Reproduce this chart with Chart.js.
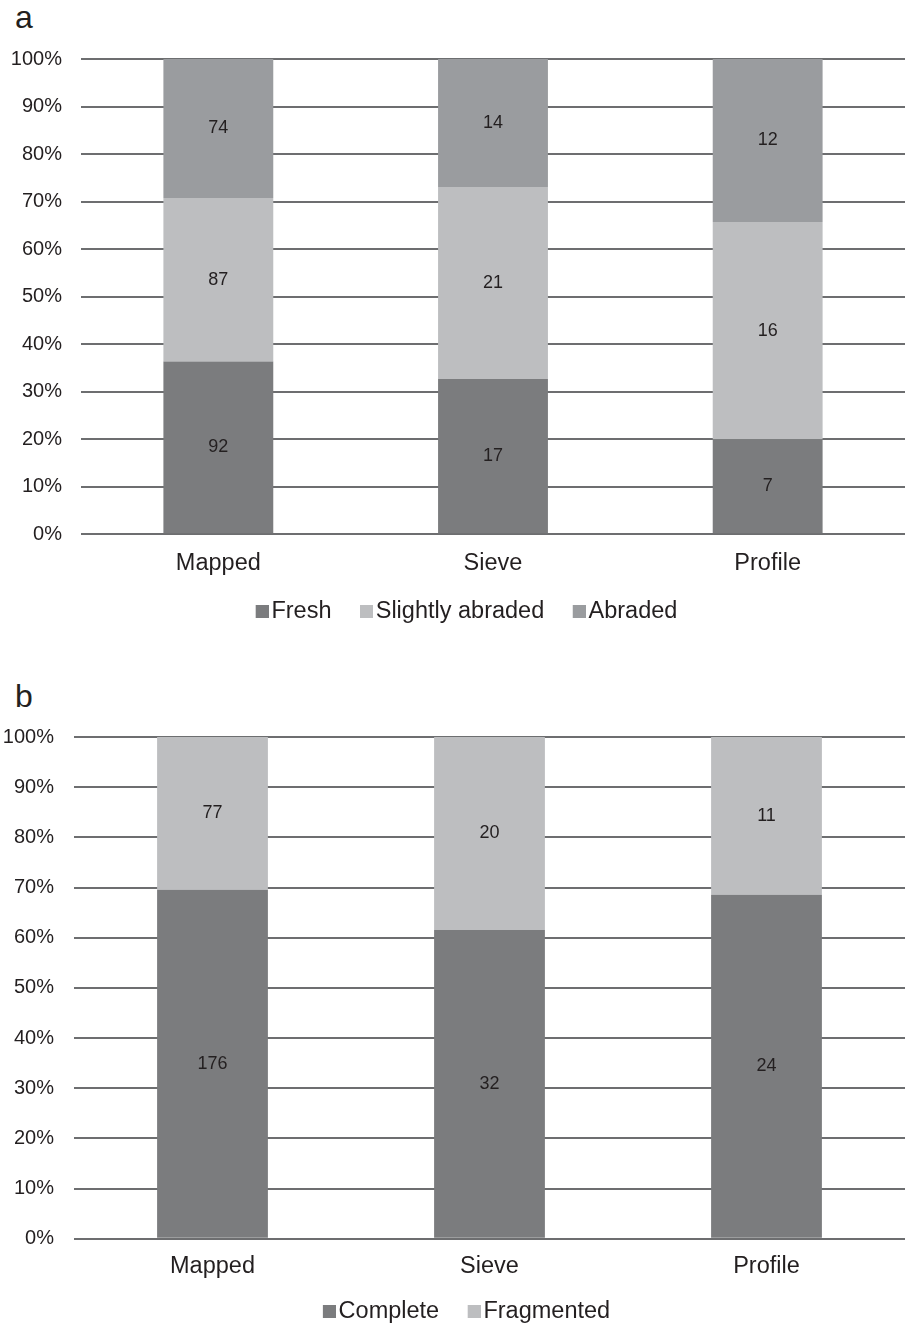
<!DOCTYPE html>
<html><head><meta charset="utf-8">
<script src="https://cdn.jsdelivr.net/npm/chart.js@4.4.1/dist/chart.umd.min.js"></script>
<style>
body{margin:0;background:#fff;width:905px;height:1323px;position:relative;overflow:hidden;font-family:"Liberation Sans",Arial,sans-serif;}
.letter{position:absolute;font-size:32px;color:#231f20;line-height:34px;}
.box{position:absolute;left:0;width:905px;}
</style></head><body>
<div class="letter" style="left:15px;top:0px">a</div>
<div class="box" style="top:0;height:640px"><canvas id="ca"></canvas></div>
<div class="letter" style="left:15px;top:679px">b</div>
<div class="box" style="top:660px;height:663px"><canvas id="cb"></canvas></div>
<script>
// ---- data ----
const categories = ["Mapped", "Sieve", "Profile"];
const freshCounts = [92, 17, 7];
const slightlyAbradedCounts = [87, 21, 16];
const abradedCounts = [74, 14, 12];
const completeCounts = [176, 32, 24];
const fragmentedCounts = [77, 20, 11];
const yTickValues = [0, 10, 20, 30, 40, 50, 60, 70, 80, 90, 100];

const TEXT = "#231f20";
const FONT = "'Liberation Sans', Arial, sans-serif";
const LEGEND_FS = 23.5;

function toPercent(seriesList) {
  const totals = categories.map((_, i) => seriesList.reduce((s, arr) => s + arr[i], 0));
  return seriesList.map(arr => arr.map((v, i) => v / totals[i] * 100));
}

// legend swatch: a small square placed at the right end of a transparent image,
// so that it sits close to its text, as in the reference
function swatch(color, imgW) {
  const c = document.createElement("canvas");
  c.width = imgW; c.height = 13;
  const g = c.getContext("2d");
  g.fillStyle = color;
  g.fillRect(imgW - 13, 0, 13, 13);
  return c;
}

const countLabels = {
  id: "countLabels",
  afterDatasetsDraw(chart) {
    const ctx = chart.ctx;
    ctx.save();
    ctx.font = "18px " + FONT;
    ctx.fillStyle = TEXT;
    ctx.textAlign = "center";
    ctx.textBaseline = "middle";
    chart.data.datasets.forEach((ds, di) => {
      const meta = chart.getDatasetMeta(di);
      meta.data.forEach((bar, i) => {
        const p = bar.getProps(["x", "y", "base"], true);
        ctx.fillText(String(ds.counts[i]), p.x, (p.y + p.base) / 2);
      });
    });
    ctx.restore();
  }
};

function makeChart(id, names, counts, colors, pad, legendPad, xTickPad, yAxisWidth, yTickPad, legendShift) {
  const pct = toPercent(counts);
  const W = Math.round(44 - LEGEND_FS / 2 - legendPad);
  const imgW = Math.round(W + LEGEND_FS - 6);
  const swatches = colors.map(c => swatch(c, imgW));
  const shiftLegend = {
    id: "shiftLegend",
    afterLayout(chart) {
      if (chart.legend) { chart.legend.left += legendShift; chart.legend.right += legendShift; }
    }
  };
  return new Chart(document.getElementById(id), {
    type: "bar",
    data: {
      labels: categories,
      datasets: names.map((n, k) => ({
        label: n,
        data: pct[k],
        counts: counts[k],
        backgroundColor: colors[k],
        borderWidth: 0,
        categoryPercentage: 1.0,
        barPercentage: 0.4
      }))
    },
    options: {
      responsive: true,
      maintainAspectRatio: false,
      animation: false,
      layout: { padding: pad },
      plugins: {
        tooltip: { enabled: false },
        legend: {
          position: "bottom",
          labels: {
            color: TEXT,
            font: { family: FONT, size: LEGEND_FS },
            usePointStyle: true,
            pointStyleWidth: W,
            boxHeight: 13,
            padding: legendPad,
            generateLabels(chart) {
              const items = Chart.defaults.plugins.legend.labels.generateLabels(chart);
              items.forEach((it, i) => { it.pointStyle = swatches[i]; });
              return items;
            }
          }
        }
      },
      scales: {
        x: {
          stacked: true,
          grid: { display: false },
          border: { display: false },
          ticks: { color: TEXT, font: { family: FONT, size: 23.5 }, padding: xTickPad }
        },
        y: {
          stacked: true,
          min: 0,
          max: 100,
          afterBuildTicks(axis) { axis.ticks = yTickValues.map(v => ({ value: v })); },
          afterFit(axis) { axis.width = yAxisWidth; },
          grid: { color: "#6d6e70", lineWidth: 2, drawTicks: false },
          border: { display: false },
          ticks: {
            color: TEXT,
            font: { family: FONT, size: 20 },
            padding: yTickPad,
            callback: v => v + "%"
          }
        }
      }
    },
    plugins: [countLabels, shiftLegend]
  });
}

makeChart("ca", ["Fresh", "Slightly abraded", "Abraded"],
  [freshCounts, slightlyAbradedCounts, abradedCounts],
  ["#7b7c7e", "#bdbec0", "#9a9c9f"],
  { top: 59, left: 0, right: 0, bottom: 6.5 }, 15.5, 7, 81, 19, 7.5);

makeChart("cb", ["Complete", "Fragmented"],
  [completeCounts, fragmentedCounts],
  ["#7b7c7e", "#bdbec0"],
  { top: 77, left: 0, right: 0, bottom: -10 }, 12.5, 6, 74, 20, 6);
</script>
</body></html>
